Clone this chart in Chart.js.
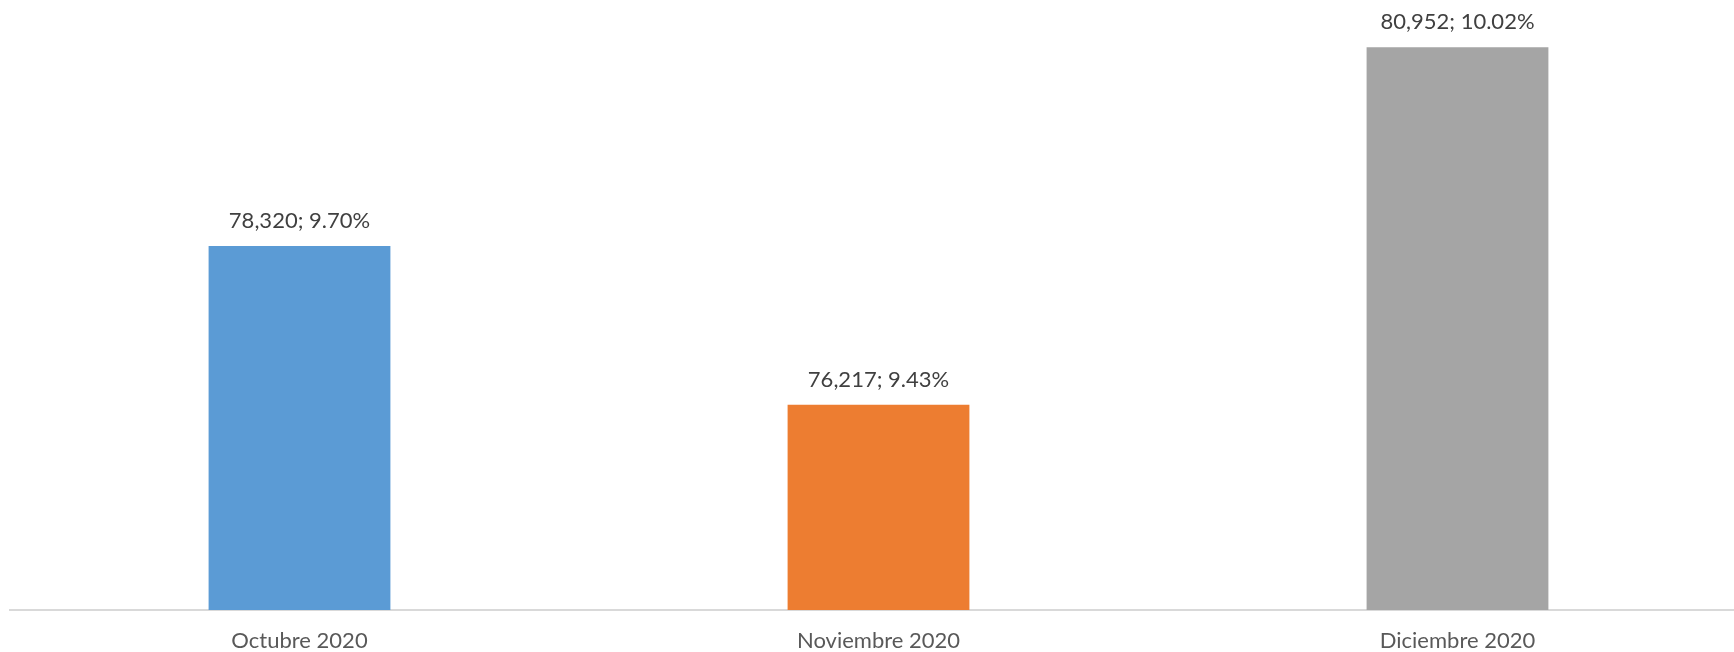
<!DOCTYPE html>
<html>
<head>
<meta charset="utf-8">
<script src="https://cdn.jsdelivr.net/npm/chart.js@4"></script>
<style>
  html, body { margin: 0; padding: 0; background: #ffffff; overflow: hidden; }
  #wrap { width: 1747px; height: 652px; }
</style>
</head>
<body>
<div id="wrap"><canvas id="chart" width="1747" height="652"></canvas></div>
<script>
// Chart data
const categories = ['Octubre 2020', 'Noviembre 2020', 'Diciembre 2020'];
const values = [78320, 76217, 80952];
const shares = [9.70, 9.43, 10.02];
const barColors = ['#5B9BD5', '#ED7D31', '#A5A5A5'];

const FONT = 'Lato, "Open Sans", sans-serif';

// Draw "value; share%" above each bar
const valueLabels = {
    id: 'valueLabels',
    afterDatasetsDraw(chart) {
        const ctx = chart.ctx;
        const meta = chart.getDatasetMeta(0);
        ctx.save();
        ctx.font = '22px ' + FONT;
        ctx.fillStyle = '#404040';
        ctx.textAlign = 'center';
        ctx.textBaseline = 'middle';
        meta.data.forEach((bar, i) => {
            const text = values[i].toLocaleString('en-US') + '; ' + shares[i].toFixed(2) + '%';
            ctx.fillText(text, bar.x, bar.y - 25);
        });
        ctx.restore();
    }
};

const chart = new Chart(document.getElementById('chart'), {
    type: 'bar',
    data: {
        labels: categories,
        datasets: [{
            data: values,
            backgroundColor: barColors,
            borderWidth: 0,
            barPercentage: 0.314,
            categoryPercentage: 1
        }]
    },
    options: {
        responsive: false,
        animation: false,
        devicePixelRatio: 1,
        layout: { padding: { left: 10, right: 0, top: 6, bottom: 0 } },
        plugins: {
            legend: { display: false },
            tooltip: { enabled: false }
        },
        scales: {
            x: {
                grid: { display: false, drawTicks: false },
                border: { display: true, color: '#D9D9D9', width: 2 },
                ticks: {
                    color: '#595959',
                    font: { family: FONT, size: 22 },
                    padding: 18
                },
                afterFit: (axis) => { axis.height = 42; }
            },
            y: {
                display: false,
                min: 73500,
                max: 81500
            }
        }
    },
    plugins: [valueLabels]
});
</script>
</body>
</html>
